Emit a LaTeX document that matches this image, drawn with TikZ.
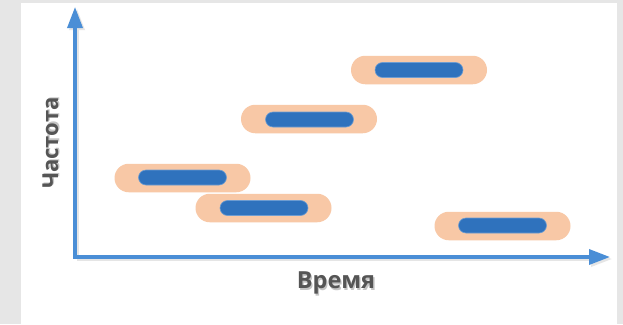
\documentclass[tikz,border=0pt]{standalone}
\usepackage{fontspec}
\setmainfont{Open Sans}
\usetikzlibrary{arrows.meta}
\definecolor{bggray}{HTML}{E6E6E6}
\definecolor{axisblue}{HTML}{4A8ED6}
\definecolor{barblue}{HTML}{2F72BD}
\definecolor{peach}{HTML}{F8C8A6}
\definecolor{labelgray}{HTML}{555555}
\definecolor{shadowgray}{HTML}{C4C4C4}
\newcommand{\shadowtext}[1]{\makebox[0pt][l]{\raisebox{-1.3pt}{\hspace{1.3pt}\textcolor{shadowgray}{#1}}}#1}
\tikzset{
  pill/.style={fill=peach, draw=none, minimum width=136pt, minimum height=28.5pt, rounded corners=14.25pt, inner sep=0pt},
  bar/.style={fill=barblue, draw=barblue!70!white, line width=0.6pt, minimum width=88pt, minimum height=15pt, rounded corners=7.5pt, inner sep=0pt},
  axis/.style={draw=axisblue, line width=3.4pt, -{Triangle[length=21pt,width=15pt]}},
  axshadow/.style={draw=black!10, line width=3.4pt, -{Triangle[length=21pt,width=15pt]}},
  lbl/.style={font=\bfseries, text=labelgray, inner sep=0pt},
}
\begin{document}
\begin{tikzpicture}[x=1pt,y=-1pt]
\useasboundingbox (0,0) rectangle (623,324);
\fill[bggray] (0,0) rectangle (623,324);
\fill[white] (21,3) rectangle (617,324);
% axes
\coordinate (O) at (75,257);
\coordinate (Yt) at (75,7);
\coordinate (Xt) at (610,257);
\coordinate (Os) at (77,259);
\coordinate (Yts) at (77,9);
\coordinate (Xts) at (612,259);
\draw[axshadow] (Os) -- (Yts);
\draw[axshadow] (Os) -- (Xts);
\draw[axis] ([yshift=-1.7pt]O) -- (Yt);
\draw[axis] ([xshift=-1.7pt]O) -- (Xt);
% pills
\node[pill] (p1) at (419,70) {};
\node[bar]  (b1) at (419,70) {};
\node[pill] (p2) at (309,119) {};
\node[bar]  (b2) at (309.5,119.5) {};
\node[pill] (p3) at (182.5,178) {};
\node[bar]  (b3) at (182.5,177.5) {};
\node[pill] (p4) at (263.5,208) {};
\node[bar]  (b4) at (264,208) {};
\node[pill] (p5) at (502.5,226) {};
\node[bar]  (b5) at (502.5,225.5) {};
% labels
\node[lbl, rotate=90, font=\bfseries\fontsize{22}{26}\selectfont] (yl) at (51,143) {\shadowtext{Частота}};
\node[lbl, font=\bfseries\fontsize{23.5}{28}\selectfont] (xl) at (336,284) {\shadowtext{Время}};
\end{tikzpicture}
\end{document}
